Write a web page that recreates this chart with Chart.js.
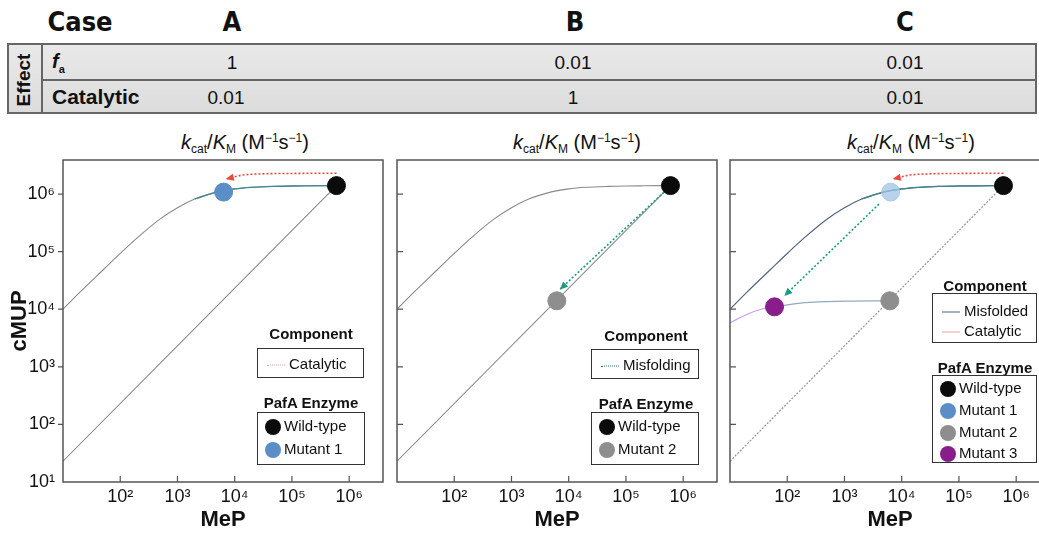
<!DOCTYPE html>
<html>
<head>
<meta charset="utf-8">
<script src="https://cdn.jsdelivr.net/npm/chart.js@4.4.1/dist/chart.umd.min.js"></script>
<style>
  html, body { margin: 0; padding: 0; background: #fff; }
  body { width: 1039px; height: 533px; position: relative; overflow: hidden; font-family: "Liberation Sans", Arial, sans-serif; color: #111; }
  .abs { position: absolute; }
  .head { font-family: "Liberation Sans Narrow", "DejaVu Sans Condensed", "Liberation Sans", sans-serif; font-weight: bold; font-size: 27px; top: 6px; transform: translateX(-50%); }
  .tbl { left: 7px; top: 43px; width: 1030px; height: 71px; border: 2px solid #666; background: linear-gradient(#e9e9e9, #dcdcdc); box-sizing: border-box; }
  .cell { font-size: 19px; transform: translate(-50%, -50%); font-family: "Liberation Sans Narrow", "Liberation Sans", sans-serif; }
  .ptitle { font-size: 20px; top: 131px; transform: translateX(-50%); white-space: nowrap; }
  .ptitle sub { font-size: 12px; vertical-align: -4px; }
  .ptitle sup { font-size: 12px; vertical-align: 7px; }
  .lgtitle { font-weight: bold; font-size: 15px; transform: translate(-50%, -50%); white-space: nowrap; }
  .lgbox { border: 1.5px solid #333; box-sizing: border-box; background: #fff; }
  .row { position: absolute; left: 0; font-size: 15px; white-space: nowrap; transform: translateY(-50%); }
  .dot { display: inline-block; width: 16px; height: 16px; border-radius: 50%; vertical-align: middle; margin-right: 3px; }
  .smp { display: inline-block; width: 18px; height: 0; vertical-align: middle; margin-right: 4px; }
  canvas { position: absolute; }
</style>
</head>
<body>

<!-- Tabela do topo -->
<div class="abs head" style="left:80px;">Case</div>
<div class="abs head" style="left:232px;">A</div>
<div class="abs head" style="left:575px;">B</div>
<div class="abs head" style="left:905px;">C</div>

<div class="abs tbl"></div>
<div class="abs" style="left:41px; top:44px; width:2px; height:70px; background:#666;"></div>
<div class="abs" style="left:43px; top:79px; width:994px; height:2px; background:#666;"></div>
<div class="abs" style="left:24px; top:80px; transform:translate(-50%,-50%) rotate(-90deg); font-weight:bold; font-size:19px;">Effect</div>
<div class="abs" style="left:52px; top:50px; font-weight:bold; font-style:italic; font-size:20px;">f<sub style="font-size:11px; font-style:normal;">a</sub></div>
<div class="abs" style="left:52px; top:85px; font-weight:bold; font-size:21px;">Catalytic</div>
<div class="abs cell" style="left:232px; top:63px;">1</div>
<div class="abs cell" style="left:573px; top:63px;">0.01</div>
<div class="abs cell" style="left:905px; top:63px;">0.01</div>
<div class="abs cell" style="left:226px; top:98px;">0.01</div>
<div class="abs cell" style="left:573px; top:98px;">1</div>
<div class="abs cell" style="left:905px; top:98px;">0.01</div>

<!-- Títulos dos painéis -->
<div class="abs ptitle" style="left:245px;"><i>k</i><sub>cat</sub>/<i>K</i><sub>M</sub> (M<sup>−1</sup>s<sup>−1</sup>)</div>
<div class="abs ptitle" style="left:577px;"><i>k</i><sub>cat</sub>/<i>K</i><sub>M</sub> (M<sup>−1</sup>s<sup>−1</sup>)</div>
<div class="abs ptitle" style="left:911px;"><i>k</i><sub>cat</sub>/<i>K</i><sub>M</sub> (M<sup>−1</sup>s<sup>−1</sup>)</div>

<canvas id="chartA" width="400" height="403" style="left:0px; top:130px;"></canvas>
<canvas id="chartB" width="350" height="403" style="left:384px; top:130px;"></canvas>
<canvas id="chartC" width="340" height="403" style="left:720px; top:130px;"></canvas>

<!-- Legendas -->
<div id="legends"></div>

<script>
// ===== DADOS =====
const decadeTicks = [1e1, 1e2, 1e3, 1e4, 1e5, 1e6];
const tickLabels = ['10¹', '10²', '10³', '10⁴', '10⁵', '10⁶'];

// curva kcat/KM (enzima completa)
const curveMeP  = [10, 20, 50, 100, 200, 500, 1000, 2000, 5000, 1e4, 2e4, 5e4, 1e5, 2e5, 6e5];
const curveCMUP = [1.0e4, 2.0e4, 4.8e4, 9.3e4, 1.75e5, 3.7e5, 5.8e5, 8.2e5, 1.09e6, 1.23e6, 1.31e6, 1.36e6, 1.38e6, 1.39e6, 1.4e6];
const catalyticStart = 2000;

// diagonal (perfil do tipo selvagem)
const diagMeP  = [10, 6e5];
const diagCMUP = [23, 1.4e6];

// curva do mutante 3 (painel C)
const lowMeP   = [10, 20, 35, 60];
const lowCMUP  = [5.8e3, 8.2e3, 1.0e4, 1.1e4];
const flatMeP  = [60, 200, 1000, 6200];
const flatCMUP = [1.1e4, 1.3e4, 1.38e4, 1.4e4];

// enzimas
const wtPoint = [6e5, 1.4e6];
const mut1Point = [6.4e3, 1.08e6];
const mut2Point = [6.2e3, 1.4e4];
const mut3Point = [60, 1.1e4];

// setas
const redMeP  = [6e5, 1e5, 3e4, 1.3e4, 7e3];
const redCMUP = [2.3e6, 2.28e6, 2.24e6, 2.12e6, 1.82e6];
const greenBMeP  = [5.2e5, 7e3];
const greenBCMUP = [1.2e6, 2.2e4];
const greenCMeP  = [4e3, 89];
const greenCCMUP = [6.7e5, 1.7e4];

const AXIS_MIN = 10;
const AXIS_MAX = 3.9e6;

const colors = {
    wt: '#0b0b0b',
    mut1: '#5b8ec6',
    mut1Pale: 'rgba(160,195,228,0.75)',
    mut2: '#8e8e8e',
    mut3: '#8a1d8c',
    curve: '#8a8a8a',
    teal: '#3f8796',
    slate: '#52637e',
    red: '#e8493c',
    green: '#1b9a80',
    frame: '#555'
};

Chart.defaults.font.family = "'Liberation Sans', Arial, sans-serif";
Chart.defaults.color = '#111';

function pts(xs, ys) {
    return xs.map((x, i) => ({ x: x, y: ys[i] }));
}

function pointSet(p, color, border) {
    return {
        data: [{ x: p[0], y: p[1] }],
        showLine: false,
        pointRadius: 9,
        pointBackgroundColor: color,
        pointBorderColor: border || color,
        pointBorderWidth: 1
    };
}

function lineSet(xs, ys, color, width, dash, arrow) {
    return {
        data: pts(xs, ys),
        borderColor: color,
        borderWidth: width,
        borderDash: dash || [],
        pointRadius: 0,
        cubicInterpolationMode: 'monotone',
        fill: false,
        arrowHead: arrow || null
    };
}

// moldura + marcas de escala
const framePlugin = {
    id: 'frame',
    afterDraw(chart) {
        const { ctx, chartArea: a, scales } = chart;
        const yOut = chart.options.plugins.frame.yTicksOutside;
        ctx.save();
        ctx.strokeStyle = colors.frame;
        ctx.lineWidth = 1.5;
        ctx.strokeRect(a.left, a.top, a.right - a.left, a.bottom - a.top);
        ctx.lineWidth = 1.2;
        ctx.beginPath();
        scales.x.ticks.forEach(t => {
            if (t.value <= AXIS_MIN) return;
            const px = scales.x.getPixelForValue(t.value);
            ctx.moveTo(px, a.bottom);
            ctx.lineTo(px, a.bottom - 6);
        });
        scales.y.ticks.forEach(t => {
            if (t.value <= AXIS_MIN) return;
            const py = scales.y.getPixelForValue(t.value);
            ctx.moveTo(a.left, py);
            ctx.lineTo(yOut ? a.left - 5 : a.left + 6, py);
        });
        ctx.stroke();
        ctx.restore();
    }
};

// pontas de seta
const arrowPlugin = {
    id: 'arrows',
    afterDatasetsDraw(chart) {
        const ctx = chart.ctx;
        chart.data.datasets.forEach((ds, i) => {
            if (!ds.arrowHead) return;
            const pts = chart.getDatasetMeta(i).data;
            const p1 = pts[pts.length - 1];
            const p0 = pts[pts.length - 2];
            const ang = Math.atan2(p1.y - p0.y, p1.x - p0.x);
            const s = 8;
            ctx.save();
            ctx.fillStyle = ds.arrowHead;
            ctx.translate(p1.x, p1.y);
            ctx.rotate(ang);
            ctx.beginPath();
            ctx.moveTo(0, 0);
            ctx.lineTo(-s, -s * 0.45);
            ctx.lineTo(-s, s * 0.45);
            ctx.closePath();
            ctx.fill();
            ctx.restore();
        });
    }
};

function makeChart(id, datasets, pad, yWidth, showYLabels) {
    const canvas = document.getElementById(id);
    new Chart(canvas, {
        type: 'line',
        data: { datasets: datasets },
        options: {
            responsive: false,
            animation: false,
            layout: { padding: pad },
            plugins: {
                legend: { display: false },
                tooltip: { enabled: false },
                frame: { yTicksOutside: showYLabels }
            },
            scales: {
                x: {
                    type: 'logarithmic',
                    min: AXIS_MIN,
                    max: AXIS_MAX,
                    afterBuildTicks: s => { s.ticks = decadeTicks.map(v => ({ value: v })); },
                    afterFit: s => { s.height = 51; },
                    grid: { display: false, drawTicks: false },
                    border: { display: false },
                    ticks: {
                        padding: 4,
                        font: { size: 18 },
                        callback: (v) => {
                            const k = decadeTicks.indexOf(v);
                            return k > 0 ? tickLabels[k] : '';
                        }
                    },
                    title: { display: true, text: 'MeP', font: { size: 22, weight: 'bold' }, padding: { top: 2, bottom: 0 } }
                },
                y: {
                    type: 'logarithmic',
                    min: AXIS_MIN,
                    max: AXIS_MAX,
                    afterBuildTicks: s => { s.ticks = decadeTicks.map(v => ({ value: v })); },
                    afterFit: s => { s.width = yWidth; },
                    grid: { display: false, drawTicks: false },
                    border: { display: false },
                    ticks: {
                        display: showYLabels,
                        padding: 8,
                        font: { size: 18 },
                        callback: (v) => tickLabels[decadeTicks.indexOf(v)]
                    },
                    title: { display: showYLabels, text: 'cMUP', font: { size: 22, weight: 'bold' }, padding: { top: 7, bottom: 0 } }
                }
            }
        },
        plugins: [framePlugin, arrowPlugin]
    });
}

const tealPart = curveMeP.map((x, i) => i).filter(i => curveMeP[i] >= catalyticStart);

// ===== PAINEL A =====
makeChart('chartA', [
    pointSet(wtPoint, colors.wt),
    pointSet(mut1Point, colors.mut1),
    lineSet(redMeP, redCMUP, colors.red, 1.6, [2, 2], colors.red),
    lineSet(tealPart.map(i => curveMeP[i]), tealPart.map(i => curveCMUP[i]), colors.teal, 1.3),
    lineSet(curveMeP, curveCMUP, colors.curve, 1.1),
    lineSet(diagMeP, diagCMUP, colors.curve, 1.1)
], { top: 30, right: 17, left: 0, bottom: 0 }, 63, true);

// ===== PAINEL B =====
makeChart('chartB', [
    pointSet(wtPoint, colors.wt),
    pointSet(mut2Point, colors.mut2),
    lineSet(greenBMeP, greenBCMUP, colors.green, 1.6, [2, 2], colors.green),
    lineSet(curveMeP, curveCMUP, colors.curve, 1.1),
    lineSet(diagMeP, diagCMUP, colors.curve, 1.1)
], { top: 30, right: 17, left: 0, bottom: 0 }, 13, false);

// ===== PAINEL C =====
makeChart('chartC', [
    pointSet(wtPoint, colors.wt),
    pointSet(mut1Point, colors.mut1Pale),
    pointSet(mut2Point, colors.mut2),
    pointSet(mut3Point, colors.mut3),
    lineSet(redMeP, redCMUP, colors.red, 1.6, [2, 2], colors.red),
    lineSet(greenCMeP, greenCCMUP, colors.green, 1.6, [2, 2], colors.green),
    lineSet(tealPart.map(i => curveMeP[i]), tealPart.map(i => curveCMUP[i]), colors.teal, 1.3),
    lineSet(curveMeP, curveCMUP, colors.slate, 1.2),
    lineSet(lowMeP, lowCMUP, '#c8a2e6', 1.2),
    lineSet(flatMeP, flatCMUP, '#93a9c4', 1.2),
    lineSet(diagMeP, diagCMUP, '#9a9a9a', 1.3, [2, 1.5])
], { top: 30, right: 10, left: 0, bottom: 0 }, 10, false);

// ===== LEGENDAS (HTML) =====
function legendHTML(cx, compY, box1, rows1, enzY, box2, rows2) {
    let h = '';
    h += `<div class="abs lgtitle" style="left:${cx}px; top:${compY}px;">Component</div>`;
    h += `<div class="abs lgbox" style="left:${box1[0]}px; top:${box1[1]}px; width:${box1[2]}px; height:${box1[3]}px;">`;
    rows1.forEach(r => {
        h += `<div class="row" style="top:${r.y}px; left:9px;"><span class="smp" style="border-top:1.5px ${r.style} ${r.color};"></span>${r.label}</div>`;
    });
    h += `</div>`;
    h += `<div class="abs lgtitle" style="left:${cx}px; top:${enzY}px;">PafA Enzyme</div>`;
    h += `<div class="abs lgbox" style="left:${box2[0]}px; top:${box2[1]}px; width:${box2[2]}px; height:${box2[3]}px;">`;
    rows2.forEach(r => {
        h += `<div class="row" style="top:${r.y}px; left:7px;"><span class="dot" style="background:${r.color};"></span>${r.label}</div>`;
    });
    h += `</div>`;
    return h;
}

document.getElementById('legends').innerHTML =
    legendHTML(311, 333, [257, 348, 107, 30],
        [{ y: 14, label: 'Catalytic', color: '#e9a0a0', style: 'dotted' }],
        402, [257, 412, 108, 53],
        [{ y: 13, label: 'Wild-type', color: colors.wt }, { y: 36, label: 'Mutant 1', color: colors.mut1 }]) +
    legendHTML(646, 335, [591, 349, 108, 30],
        [{ y: 14, label: 'Misfolding', color: '#2f6f6a', style: 'dotted' }],
        403, [591, 412, 108, 53],
        [{ y: 13, label: 'Wild-type', color: colors.wt }, { y: 36, label: 'Mutant 2', color: colors.mut2 }]) +
    legendHTML(985, 285, [932, 293, 105, 50],
        [{ y: 16, label: 'Misfolded', color: colors.slate, style: 'solid' },
         { y: 36, label: 'Catalytic', color: '#e9a0a0', style: 'solid' }],
        367, [932, 375, 105, 88],
        [{ y: 12, label: 'Wild-type', color: colors.wt }, { y: 34, label: 'Mutant 1', color: colors.mut1 },
         { y: 56, label: 'Mutant 2', color: colors.mut2 }, { y: 77, label: 'Mutant 3', color: colors.mut3 }]);
</script>
</body>
</html>
